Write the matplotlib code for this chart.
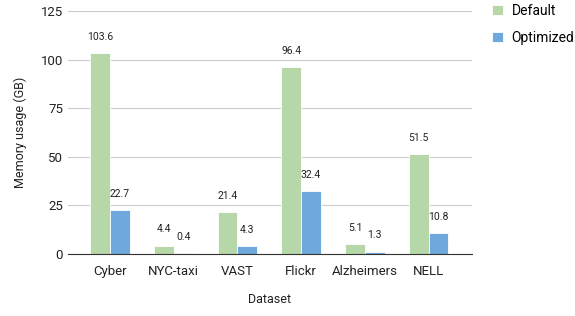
import numpy as np
import matplotlib.pyplot as plt

plt.rcParams['font.family'] = ['Roboto', 'DejaVu Sans']

# datos
datasets = ['Cyber', 'NYC-taxi', 'VAST', 'Flickr', 'Alzheimers', 'NELL']
default = [103.6, 4.4, 21.4, 96.4, 5.1, 51.5]
optimized = [22.7, 0.4, 4.3, 32.4, 1.3, 10.8]

x = np.arange(len(datasets))
w = 0.31

fig = plt.figure(figsize=(5.75, 3.16), dpi=100)
ax = fig.add_axes([0.118, 0.196, 0.703, 0.769])

b1 = ax.bar(x - w/2, default, w, color='#b6d7a8', edgecolor='white', linewidth=0.6, label='Default', zorder=3)
b2 = ax.bar(x + w/2, optimized, w, color='#6fa8dc', edgecolor='white', linewidth=0.6, label='Optimized', zorder=3)

for bars in (b1, b2):
    ax.bar_label(bars, labels=[f'{v:.1f}' for v in bars.datavalues], padding=8, fontsize=7.5, color='#222222')

ax.set_ylim(0, 125)
ax.set_xlim(-0.66, 5.68)
ax.set_yticks([0, 25, 50, 75, 100, 125])
ax.set_xticks(x)
ax.set_xticklabels(datasets)
ax.tick_params(axis='both', length=0, labelsize=9.5, colors='#222222')
ax.tick_params(axis='x', pad=8)
ax.grid(axis='y', color='#cccccc', linewidth=0.8, zorder=0)
for s in ['top', 'right', 'left']:
    ax.spines[s].set_visible(False)
ax.spines['bottom'].set_color('#333333')
ax.spines['bottom'].set_zorder(4)

ax.set_ylabel('Memory usage (GB)', fontsize=9, color='#222222', labelpad=10)
ax.set_xlabel('Dataset', fontsize=9, color='#222222', labelpad=11)

ax.legend(loc='upper left', bbox_to_anchor=(1.05, 1.03), frameon=False, fontsize=10,
          borderpad=0, borderaxespad=0, handlelength=0.8, handleheight=0.8,
          labelspacing=0.95, handletextpad=0.6)

plt.savefig('out.png')
